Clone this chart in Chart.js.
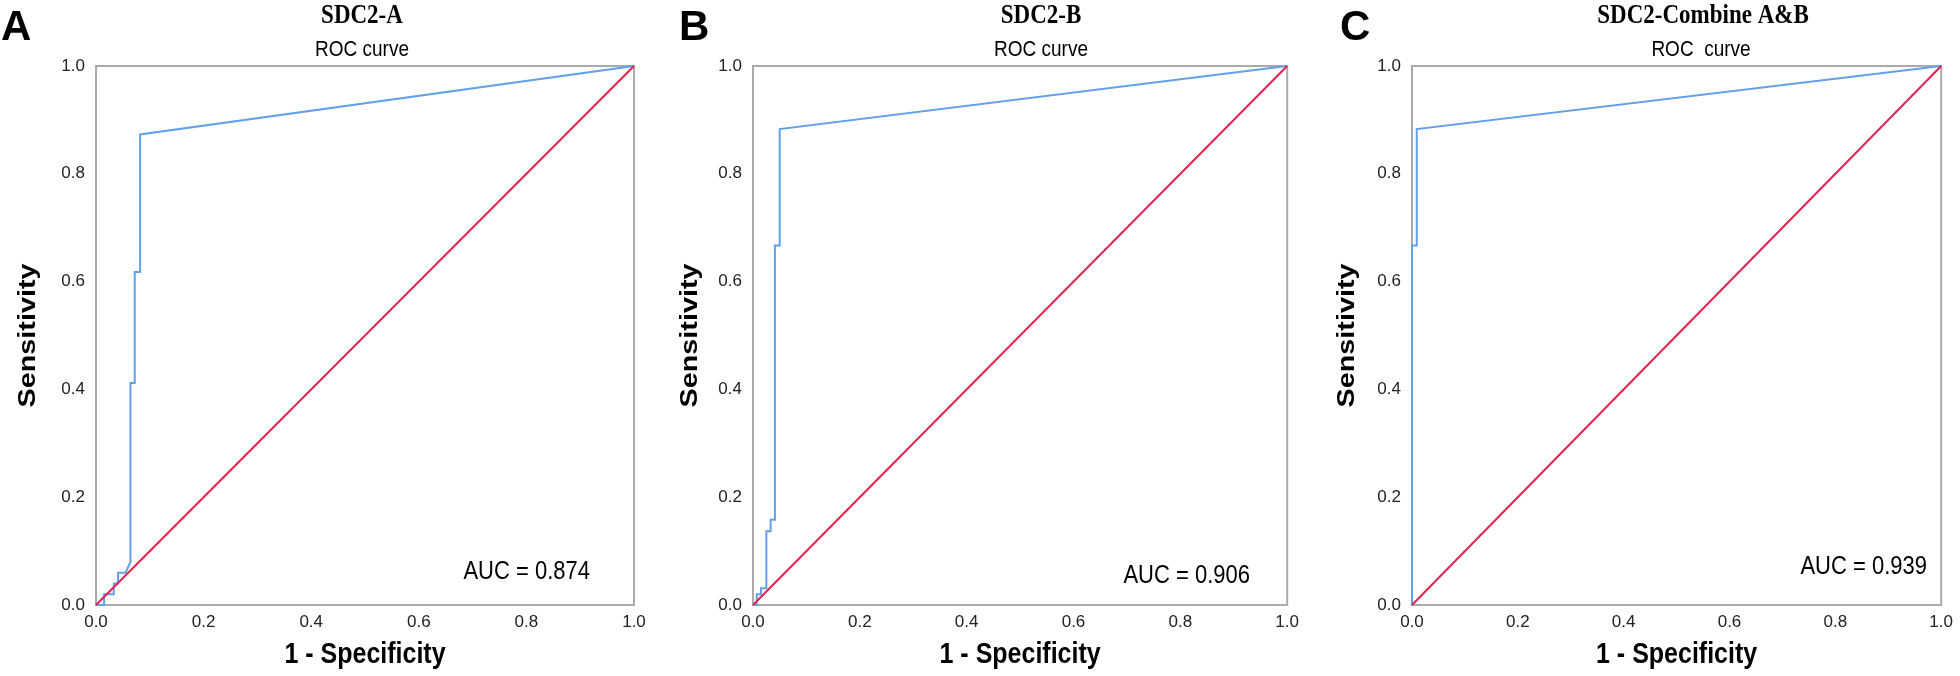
<!DOCTYPE html>
<html>
<head>
<meta charset="utf-8">
<title>SDC2 ROC curves</title>
<script src="https://cdn.jsdelivr.net/npm/chart.js@4.4.1/dist/chart.umd.min.js"></script>
<style>
  body { margin: 0; background: #fff; }
  #wrap { position: relative; width: 1960px; height: 676px; overflow: hidden; }
  #wrap canvas { position: absolute; top: 0; }
</style>
</head>
<body>
<div id="wrap">
  <canvas id="chartA" width="653" height="676" style="left:0px"></canvas>
  <canvas id="chartB" width="653" height="676" style="left:653px"></canvas>
  <canvas id="chartC" width="654" height="676" style="left:1306px"></canvas>
</div>
<script>
'use strict';

// >>> chart data <<<
const panelLetters = ['A', 'B', 'C'];
const panelTitles = ['SDC2-A', 'SDC2-B', 'SDC2-Combine A&B'];
const curveTitles = ['ROC curve', 'ROC curve', 'ROC  curve'];
const aucLabels = ['AUC = 0.874', 'AUC = 0.906', 'AUC = 0.939'];
const xAxisTitle = '1 - Specificity';
const yAxisTitle = 'Sensitivity';
const tickValues = [0, 0.2, 0.4, 0.6, 0.8, 1.0];

// 1 - specificity (x) and sensitivity (y)
const rocA_x = [0, 0.015, 0.015, 0.033, 0.033, 0.041, 0.041, 0.055, 0.064, 0.064, 0.072, 0.072, 0.082, 0.082, 1];
const rocA_y = [0, 0, 0.02, 0.02, 0.04, 0.04, 0.06, 0.06, 0.08, 0.412, 0.412, 0.618, 0.618, 0.873, 1];
const rocB_x = [0, 0.007, 0.007, 0.015, 0.015, 0.025, 0.025, 0.033, 0.033, 0.041, 0.041, 0.05, 0.05, 1];
const rocB_y = [0, 0, 0.02, 0.02, 0.031, 0.031, 0.137, 0.137, 0.158, 0.158, 0.667, 0.667, 0.883, 1];
const rocC_x = [0, 0, 0.009, 0.009, 1];
const rocC_y = [0, 0.667, 0.667, 0.883, 1];

// reference (chance) line
const refX = [0, 1];
const refY = [0, 1];

// >>> layout, page pixels <<<
const panelLayout = [
  { canvasLeft: 0, canvasWidth: 653, plotLeft: 96, plotRight: 634, letterX: 1, titleX: 362, subX: 362, yTitleX: 28, aucRight: 590, aucY: 572 },
  { canvasLeft: 653, canvasWidth: 653, plotLeft: 753, plotRight: 1288, letterX: 679, titleX: 1041, subX: 1041, yTitleX: 690, aucRight: 1250, aucY: 576 },
  { canvasLeft: 1306, canvasWidth: 654, plotLeft: 1412, plotRight: 1950, letterX: 1340, titleX: 1703, subX: 1701, yTitleX: 1347, aucRight: 1927, aucY: 567 }
];
const plotTop = 66;
const plotBottom = 605;
const pageHeight = 676;
const xTitleY = 655;
// the source figure was stretched upright, so its text is taller than wide
const stretch = 1.2;

const blue = '#62a0ea';
const red = '#e3224e';
const frameColor = '#aaaaaa';
const sans = '"Liberation Sans", Arial, sans-serif';
const serif = '"Liberation Serif", "Times New Roman", serif';

function toPoints(xs, ys) {
  return xs.map((x, i) => ({ x: x, y: ys[i] }));
}

// text drawn taller than wide, optionally turned upright
function tallText(ctx, text, x, y, font, align, upright) {
  ctx.save();
  ctx.font = font;
  ctx.textAlign = align;
  ctx.textBaseline = 'middle';
  ctx.translate(x, y);
  if (upright) {
    ctx.rotate(-Math.PI / 2);
    ctx.scale(stretch, 1);
  } else {
    ctx.scale(1, stretch);
  }
  ctx.fillText(text, 0, 0);
  ctx.restore();
}

// frame round the plot area, drawn under the lines
const framePlugin = {
  id: 'frame',
  beforeDatasetsDraw(chart) {
    const a = chart.chartArea;
    const ctx = chart.ctx;
    ctx.save();
    ctx.strokeStyle = frameColor;
    ctx.lineWidth = 2;
    ctx.strokeRect(a.left, a.top, a.right - a.left, a.bottom - a.top);
    ctx.restore();
  }
};

// panel letter, titles, axis titles and AUC note
const textPlugin = {
  id: 'panelText',
  afterDraw(chart) {
    const i = chart.options.plugins.panelText.index;
    const lay = panelLayout[i];
    const off = lay.canvasLeft;
    const a = chart.chartArea;
    const ctx = chart.ctx;
    ctx.save();
    ctx.fillStyle = '#000';

    ctx.font = 'bold 42px ' + sans;
    ctx.textAlign = 'left';
    ctx.textBaseline = 'middle';
    ctx.fillText(panelLetters[i], lay.letterX - off, 28);

    tallText(ctx, panelTitles[i], lay.titleX - off, 16, 'bold 23px ' + serif, 'center', false);
    tallText(ctx, curveTitles[i], lay.subX - off, 50, '19px ' + sans, 'center', false);
    tallText(ctx, aucLabels[i], lay.aucRight - off, lay.aucY, '22px ' + sans, 'right', false);

    tallText(ctx, xAxisTitle, (a.left + a.right) / 2, xTitleY, 'bold 25px ' + sans, 'center', false);
    tallText(ctx, yAxisTitle, lay.yTitleX - off, (a.top + a.bottom) / 2, 'bold 24px ' + sans, 'center', true);
    ctx.restore();
  }
};

function makeChart(id, i, xs, ys) {
  const lay = panelLayout[i];
  const tickFont = { family: sans, size: 17 };
  const yAxisWidth = lay.plotLeft - lay.canvasLeft;
  const xAxisHeight = pageHeight - plotBottom;

  return new Chart(document.getElementById(id), {
    type: 'scatter',
    data: {
      datasets: [
        {
          label: 'ROC',
          data: toPoints(xs, ys),
          showLine: true,
          borderColor: blue,
          borderWidth: 2,
          pointRadius: 0,
          tension: 0,
          clip: 4,
          order: 1
        },
        {
          label: 'Reference',
          data: toPoints(refX, refY),
          showLine: true,
          borderColor: red,
          borderWidth: 2,
          pointRadius: 0,
          clip: 4,
          order: 0
        }
      ]
    },
    options: {
      responsive: false,
      animation: false,
      layout: {
        padding: { left: 0, right: lay.canvasLeft + lay.canvasWidth - lay.plotRight, top: plotTop, bottom: 0 }
      },
      plugins: {
        legend: { display: false },
        tooltip: { enabled: false },
        panelText: { index: i }
      },
      scales: {
        x: {
          type: 'linear',
          min: 0,
          max: 1,
          afterBuildTicks: (s) => { s.ticks = tickValues.map(v => ({ value: v })); },
          afterFit: (s) => { s.height = xAxisHeight; },
          ticks: {
            callback: (v) => Number(v).toFixed(1),
            font: tickFont,
            color: '#222',
            padding: 7,
            maxRotation: 0
          },
          grid: { display: false, drawTicks: false },
          border: { display: false },
          title: { display: false }
        },
        y: {
          type: 'linear',
          min: 0,
          max: 1,
          afterBuildTicks: (s) => { s.ticks = tickValues.map(v => ({ value: v })); },
          afterFit: (s) => { s.width = yAxisWidth; },
          ticks: {
            callback: (v) => Number(v).toFixed(1),
            font: tickFont,
            color: '#222',
            padding: 11
          },
          grid: { display: false, drawTicks: false },
          border: { display: false },
          title: { display: false }
        }
      }
    },
    plugins: [framePlugin, textPlugin]
  });
}

makeChart('chartA', 0, rocA_x, rocA_y);
makeChart('chartB', 1, rocB_x, rocB_y);
makeChart('chartC', 2, rocC_x, rocC_y);
</script>
</body>
</html>
